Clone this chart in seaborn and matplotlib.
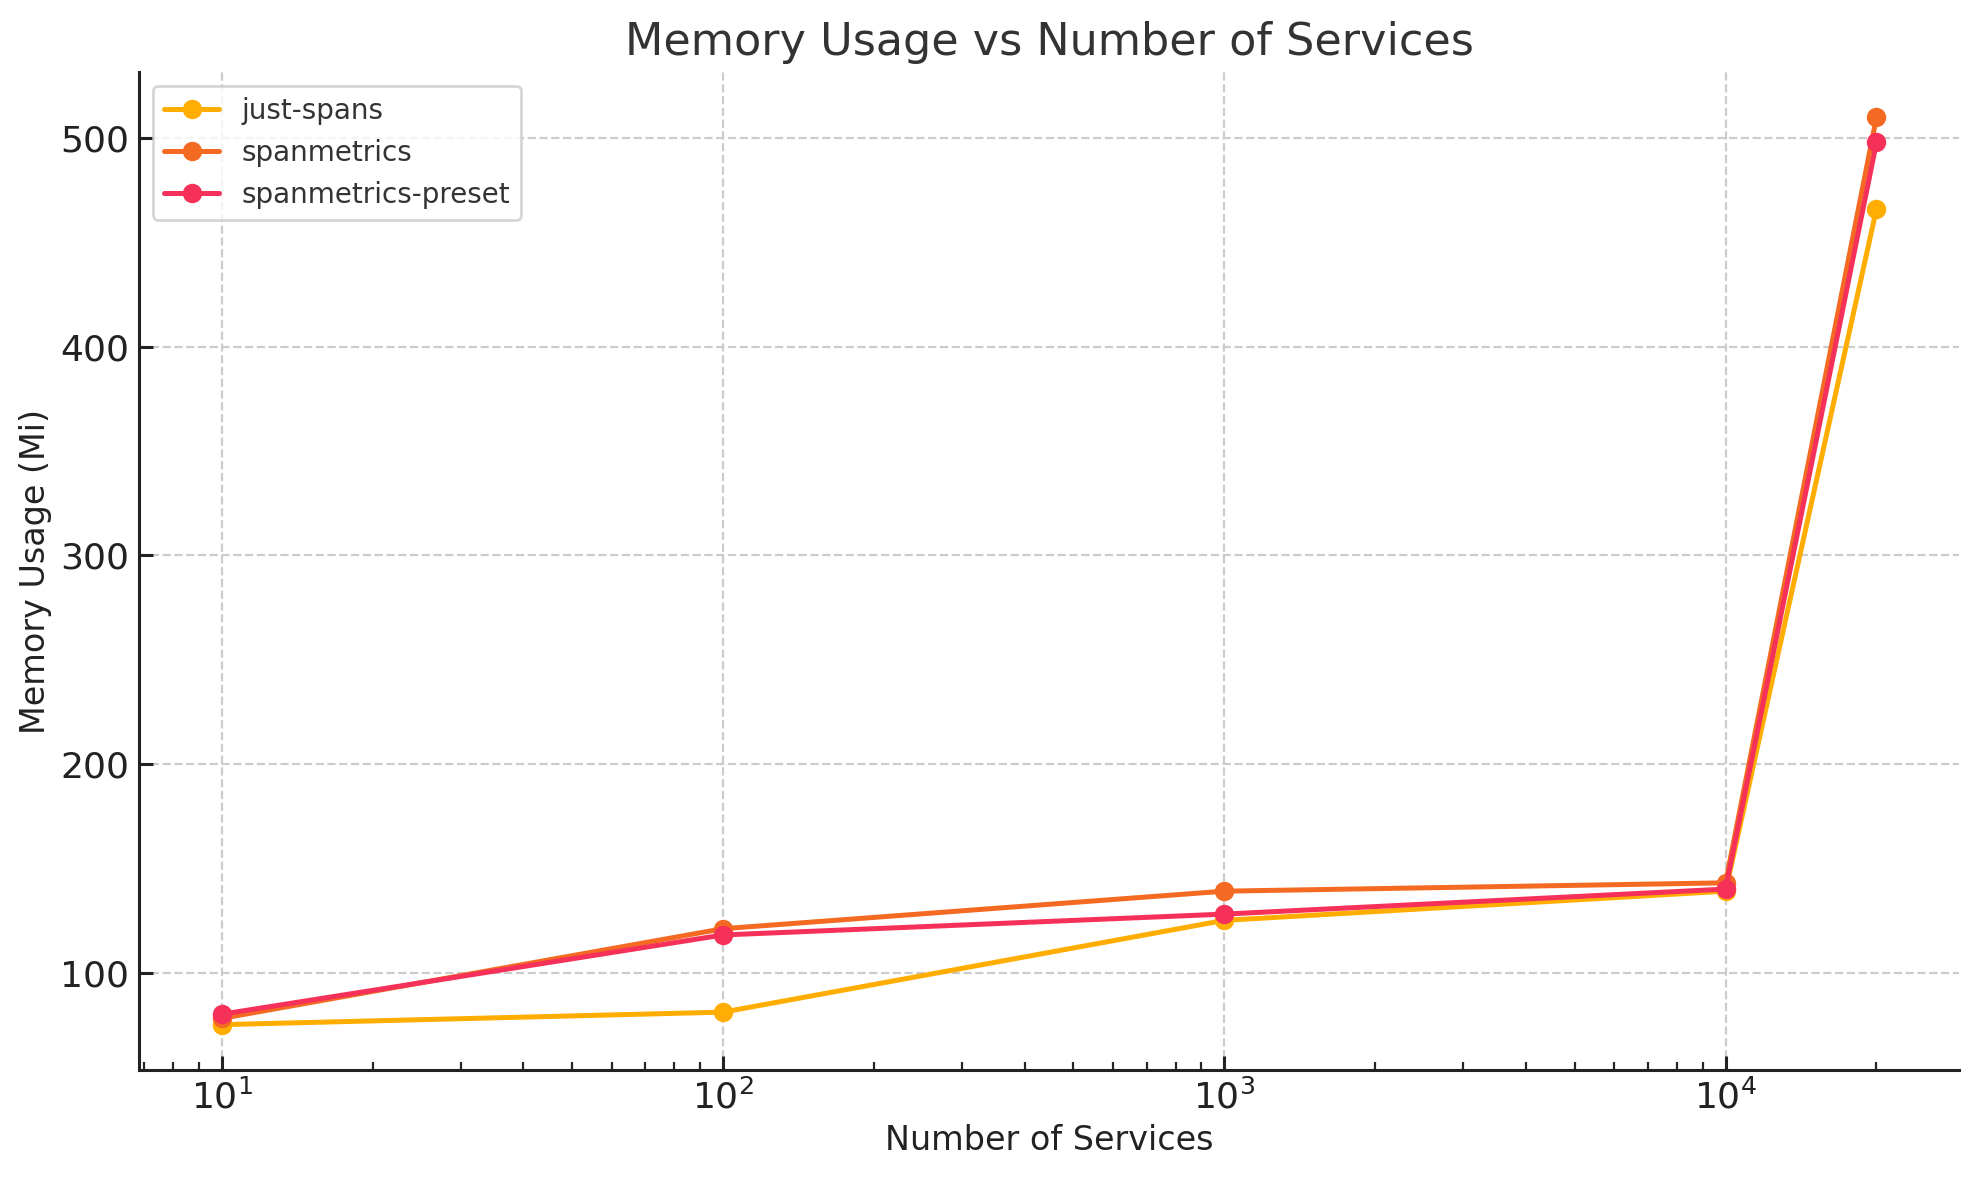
import matplotlib
matplotlib.use("Agg")
import matplotlib.pyplot as plt
import seaborn as sns
import pandas as pd

services = [10, 100, 1000, 10000, 20000]
just_spans = [75, 81, 125, 139, 466]
spanmetrics = [78, 121, 139, 143, 510]
spanmetrics_preset = [80, 118, 128, 140, 498]

series_names = ["just-spans", "spanmetrics", "spanmetrics-preset"]
colors = ["#FFAD00", "#F46A22", "#F5315A"]

rows = []
for name, vals in zip(series_names, [just_spans, spanmetrics, spanmetrics_preset]):
    for s, v in zip(services, vals):
        rows.append([s, v, name])
df = pd.DataFrame(rows, columns=["services", "memory", "config"])

sns.set_style("white")
plt.rcParams['font.family'] = ['DejaVu Sans']

fig = plt.figure(figsize=(9.895, 5.9), dpi=200)
ax = fig.add_axes([0.0702, 0.0932, 0.9198, 0.8458])

sns.lineplot(data=df, x="services", y="memory", hue="config", hue_order=series_names,
             palette=colors, marker="o", markersize=7, markeredgewidth=0,
             linewidth=1.8, ax=ax)

ax.set_xscale("log")
ax.grid(True, which="major", linestyle="--", color="#cccccc", linewidth=0.8)
ax.set_axisbelow(True)
for side in ["top", "right"]:
    ax.spines[side].set_visible(False)
for side in ["left", "bottom"]:
    ax.spines[side].set_linewidth(1.1)
    ax.spines[side].set_color("#222222")

ax.tick_params(axis="both", which="major", direction="in", labelsize=13, length=5,
               width=1.1, bottom=True, left=True, colors="#222222")
ax.tick_params(axis="x", which="minor", direction="in", length=3, width=0.8, bottom=True)

ax.set_title("Memory Usage vs Number of Services", fontsize=16, color="#333333")
ax.set_xlabel("Number of Services", fontsize=12, color="#222222", labelpad=3)
ax.set_ylabel("Memory Usage (Mi)", fontsize=12, color="#222222", labelpad=3)

leg = ax.legend(loc="upper left", fontsize=10, labelspacing=0.5, frameon=True, title=None)
leg.get_frame().set_edgecolor("#cccccc")
for t in leg.get_texts():
    t.set_color("#333333")

fig.savefig("out.png", dpi=200)
